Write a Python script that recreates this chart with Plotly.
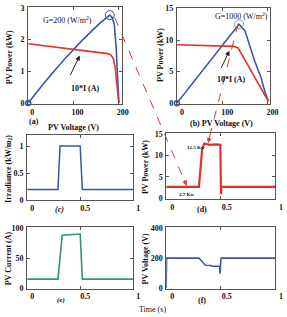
import plotly.graph_objects as go

W, H = 287, 317


def px(x):
    return x / W


def py(y):
    return 1 - y / H


# ---------------- data ----------------
# (a) G = 200 W/m2
a_pow_v = [0, 40, 80, 120, 160, 175, 180, 185, 190, 194, 197, 199, 200]
a_pow = [0, 0.72, 1.38, 1.99, 2.54, 2.73, 2.77, 2.70, 2.47, 1.75, 0.95, 0.25, 0]
a_cur_v = [0, 40, 80, 120, 160, 175, 182, 188, 192, 196, 199, 200]
a_cur = [1.87, 1.80, 1.73, 1.66, 1.59, 1.56, 1.52, 1.40, 1.10, 0.60, 0.10, 0]
a_peak = (180, 2.77)

# (b) G = 1000 W/m2
b_pow_v = [0, 40, 80, 120, 130, 137, 150, 160, 172, 185, 195, 202]
b_pow = [0, 3.7, 7.4, 11.0, 12.0, 12.5, 11.5, 9.3, 6.6, 4.2, 1.6, 0.3]
b_cur_v = [0, 40, 80, 110, 125, 135, 150, 170, 190, 202]
b_cur = [9.25, 9.2, 9.15, 9.1, 9.0, 8.75, 6.8, 4.3, 1.8, 0.3]
b_peak = (137, 12.5)

# (c) irradiance
c_t = [0, 0.29, 0.31, 0.50, 0.52, 1.0]
c_g = [0.2, 0.2, 1.0, 1.0, 0.2, 0.2]

# (d) PV power
d_t = [0, 0.30, 0.33, 0.35, 0.40, 0.45, 0.497, 0.50, 0.503, 0.506, 1.0]
d_p = [2.7, 2.7, 11.5, 12.8, 12.5, 12.6, 12.5, 3.5, 1.0, 2.7, 2.7]

# (e) PV current
e_t = [0, 0.29, 0.33, 0.42, 0.50, 0.52, 1.0]
e_i = [15, 15, 88, 89, 90, 15, 15]

# (f) PV voltage
f_t = [0, 0.003, 0.30, 0.36, 0.41, 0.42, 0.49, 0.495, 0.50, 0.505, 1.0]
f_v = [0, 200, 200, 152, 150, 145, 145, 95, 175, 200, 200]

BLUE = "#3a56a8"
RED = "#e2302a"
GREEN = "#2e9a62"
FR = "#555555"

fig = go.Figure()

# (a)
fig.add_trace(go.Scatter(x=a_pow_v, y=a_pow, mode="lines", line=dict(color=BLUE, width=1.6),
                         xaxis="x", yaxis="y"))
fig.add_trace(go.Scatter(x=a_cur_v, y=a_cur, mode="lines", line=dict(color=RED, width=1.6),
                         xaxis="x", yaxis="y"))
fig.add_trace(go.Scatter(x=[a_peak[0]], y=[a_peak[1]], mode="markers",
                         marker=dict(symbol="circle-open", size=9, color=BLUE, line=dict(width=1)),
                         xaxis="x", yaxis="y"))
fig.add_trace(go.Scatter(x=[a_pow_v[0]], y=[a_pow[0]], mode="markers",
                         marker=dict(symbol="circle-open", size=5, color=BLUE, line=dict(width=1.5)),
                         xaxis="x", yaxis="y", cliponaxis=False))

# (b)
fig.add_trace(go.Scatter(x=b_pow_v, y=b_pow, mode="lines", line=dict(color=BLUE, width=1.6),
                         xaxis="x2", yaxis="y2"))
fig.add_trace(go.Scatter(x=b_cur_v, y=b_cur, mode="lines", line=dict(color=RED, width=1.6),
                         xaxis="x2", yaxis="y2"))
fig.add_trace(go.Scatter(x=[b_peak[0]], y=[b_peak[1]], mode="markers",
                         marker=dict(symbol="circle-open", size=9, color="#999999", line=dict(width=1)),
                         xaxis="x2", yaxis="y2"))
fig.add_trace(go.Scatter(x=[b_pow_v[0]], y=[b_pow[0]], mode="markers",
                         marker=dict(symbol="circle-open", size=5, color=BLUE, line=dict(width=1.5)),
                         xaxis="x2", yaxis="y2", cliponaxis=False))

# (c)
fig.add_trace(go.Scatter(x=c_t, y=c_g, mode="lines", line=dict(color=BLUE, width=1.5),
                         xaxis="x3", yaxis="y3"))
# (d)
fig.add_trace(go.Scatter(x=d_t, y=d_p, mode="lines", line=dict(color=RED, width=2.2),
                         xaxis="x4", yaxis="y4"))
# (e)
fig.add_trace(go.Scatter(x=e_t, y=e_i, mode="lines", line=dict(color=GREEN, width=1.6),
                         xaxis="x5", yaxis="y5"))
# (f)
fig.add_trace(go.Scatter(x=f_t, y=f_v, mode="lines", line=dict(color=BLUE, width=1.6),
                         xaxis="x6", yaxis="y6"))

TF = dict(family="Liberation Serif", size=8, color="#111111", weight="bold")


def xax(dom, anchor, rng, tickvals, shift=0, showlabels=True):
    return dict(domain=[px(dom[0]), px(dom[1])], anchor=anchor, range=rng,
                tickvals=tickvals, ticks="inside", ticklen=3, tickcolor=FR,
                showline=True, linecolor=FR, linewidth=1, mirror="ticks",
                showgrid=False, zeroline=False, tickfont=TF, ticklabelshift=shift,
                showticklabels=showlabels)


def yax(dom, anchor, rng, tickvals):
    return dict(domain=[py(dom[1]), py(dom[0])], anchor=anchor, range=rng,
                tickvals=tickvals, ticks="inside", ticklen=3, tickcolor=FR,
                showline=True, linecolor=FR, linewidth=1, mirror="ticks",
                showgrid=False, zeroline=False, tickfont=TF, ticklabelstandoff=1)


fig.update_layout(
    xaxis=xax((29, 126), "y", [0, 208], [0, 100, 200], shift=4),
    yaxis=yax((3, 103), "x", [-0.03, 3.03], [0, 1, 2, 3]),
    xaxis2=xax((182, 278), "y2", [0, 206], [0, 100, 200], shift=5),
    yaxis2=yax((4, 103), "x2", [-0.15, 15.1], [0, 5, 10, 15]),
    xaxis3=xax((28, 137), "y3", [0, 1], [0, 0.5, 1], shift=5),
    yaxis3=yax((135, 202), "x3", [0, 1.2], [0, 0.5, 1]),
    xaxis4=xax((171, 283), "y4", [0, 1], [0, 0.5, 1], shift=6),
    yaxis4=yax((133, 201), "x4", [-0.2, 15.2], [0, 5, 10, 15]),
    xaxis5=xax((28, 137), "y5", [0, 1], [0, 0.5, 1], shift=5),
    yaxis5=yax((230, 293), "x5", [-1, 101], [0, 50, 100]),
    xaxis6=xax((171, 283), "y6", [0, 1], [0, 0.5, 1], shift=6),
    yaxis6=yax((230, 293), "x6", [-5, 405], [0, 200, 400]),
)

anns = []


def txt(x, y, s, size=8, bold=True, angle=0, color="#111111"):
    anns.append(dict(x=px(x), y=py(y), xref="paper", yref="paper", text=s, showarrow=False,
                     textangle=angle, xanchor="center", yanchor="middle",
                     font=dict(family="Liberation Serif", size=size, color=color,
                               weight="bold" if bold else "normal")))


txt(69, 16, "G=200 (W/m<sup>2</sup>)", size=8, bold=False)
txt(248, 12, "G=1000 (W/m<sup>2</sup>)", size=8, bold=False)
txt(88, 87, "10*I (A)", size=8)
txt(238, 78, "10*I (A)", size=8)
txt(202, 148, "12.5 Kw", size=5)
txt(192, 196, "2.7 Kw", size=5)
txt(35, 121, "(a)", size=8)
txt(76, 127, "PV Voltage (V)", size=8)
txt(228, 123, "(b) PV Voltage (V)", size=8)
txt(61, 212, "<i>(c)</i>", size=8)
txt(208, 212, "(d)", size=8)
txt(63, 305, "<i>(e)</i>", size=7)
txt(208, 305, "(f)", size=8)
txt(157, 314, "Time (s)", size=8, bold=False)
txt(10, 55, "PV Power (kW)", size=8, angle=-90)
txt(165, 52, "PV Power (kW)", size=8, angle=-90)
txt(9, 170, "Irradiance (kW/m<sub>2</sub>)", size=8, angle=-90)
txt(149, 168, "PV Power (kW)", size=8, angle=-90)
txt(9, 262, "PV Current (A)", size=8, angle=-90)
txt(150, 262, "PV Voltage (V)", size=8, angle=-90)


def arrow(hx, hy, tx, ty, color, width=1):
    anns.append(dict(x=px(hx), y=py(hy), xref="paper", yref="paper", text="",
                     showarrow=True, ax=tx - hx, ay=ty - hy, arrowhead=2, arrowsize=1,
                     arrowwidth=width, arrowcolor=color))


# black arrows to current curves
arrow(82, 53, 72, 74, "#222222")
arrow(236, 48, 227, 67, "#222222")

# dashed red connectors
shapes = [
    dict(type="line", xref="paper", yref="paper", x0=px(118), y0=py(14), x1=px(192), y1=py(187),
         line=dict(color="#c8403a", width=1, dash="dash")),
    dict(type="line", xref="paper", yref="paper", x0=px(245), y0=py(20), x1=px(214), y1=py(143),
         line=dict(color="#c8403a", width=1, dash="dash")),
]
arrow(192, 187, 189, 180, "#c8403a")
arrow(214, 143, 216, 135, "#c8403a")

fig.update_layout(annotations=anns, shapes=shapes, width=W, height=H, autosize=False,
                  margin=dict(l=0, r=0, t=0, b=0), showlegend=False,
                  plot_bgcolor="white", paper_bgcolor="white")

fig.write_html("out.html")
